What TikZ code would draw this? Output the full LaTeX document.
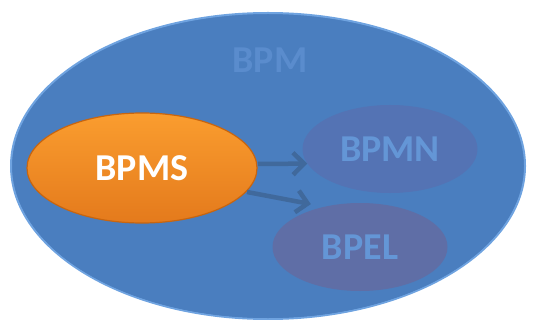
\documentclass[tikz,border=0pt]{standalone}
\usepackage{fontspec}
\setmainfont{Carlito}
\usetikzlibrary{shapes.geometric,arrows.meta,shadows}
\definecolor{bpmblue}{HTML}{4A7EBF}
\definecolor{bpmrim}{HTML}{6FA3E0}
\definecolor{bpmtext}{HTML}{5A8CCD}
\definecolor{bpmnfill}{HTML}{5473B4}
\definecolor{bpelfill}{HTML}{5F6EA6}
\definecolor{subtext}{HTML}{6496D6}
\definecolor{arrowblue}{HTML}{40699C}
\definecolor{orangetop}{HTML}{FA9D2F}
\definecolor{orangebot}{HTML}{E47A1C}
\definecolor{orangeedge}{HTML}{C8650F}
\begin{document}
\begin{tikzpicture}[x=1pt,y=-1pt,
  lbl/.style={font=\fontsize{38}{40}\selectfont\bfseries},
  outer/.style={ellipse,fill=bpmblue,minimum width=514pt,minimum height=306pt,inner sep=0pt},
  inner/.style={ellipse,minimum width=175pt,minimum height=88pt,inner sep=0pt,text=subtext,lbl},
  core/.style={ellipse,minimum width=230pt,minimum height=110pt,inner sep=0pt,text=white,lbl,
    top color=orangetop,bottom color=orangebot,draw=orangeedge,line width=1.2pt},
  link/.style={draw=arrowblue,line width=4.5pt,
    -{Straight Barb[length=11pt,width=22pt,line width=4.5pt]}}
]
\useasboundingbox (0,0) rectangle (534,320);
% outer BPM ellipse with a light rim along its top edge
\node[outer,draw=bpmrim,line width=2pt] (bpm) at (268,166) {};
\node[outer,minimum width=508pt,minimum height=298pt] (bpmcore) at (268,169) {};
\node[lbl,text=bpmtext] (bpmlabel) at (270,60) {BPM};
% the three inner ellipses
\node[inner,fill=bpmnfill] (bpmn) at (390,149) {BPMN};
\node[inner,fill=bpelfill] (bpel) at (360,247) {BPEL};
\node[core] (bpms) at (142,168) {BPMS};
% connectors
\coordinate (a1s) at (258,164);
\coordinate (a2s) at (247,192);
\draw[link] (a1s) -- (bpmn.190);
\draw[link] (a2s) -- ([shift={(-4,-5)}]bpel.140);
\end{tikzpicture}
\end{document}
